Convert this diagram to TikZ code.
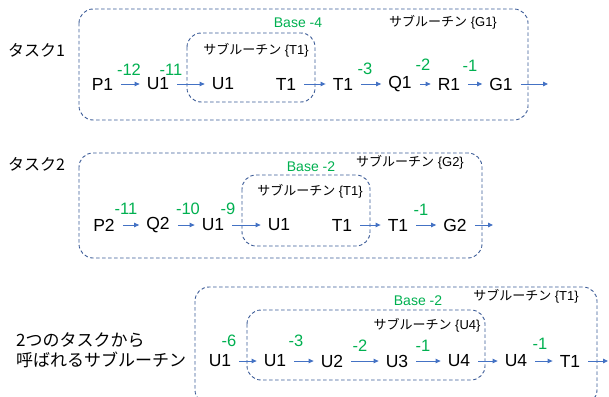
\documentclass[tikz,border=0pt]{standalone}
\usepackage{fontspec}
\setmainfont{Liberation Sans}
\newfontfamily\jp{Noto Sans CJK JP}
\usetikzlibrary{arrows.meta}
\definecolor{arrblue}{HTML}{4472C4}
\definecolor{boxblue}{HTML}{3A5A96}
\definecolor{numgreen}{HTML}{00B050}
\tikzset{
  lbl/.style={inner sep=0pt, font=\fontsize{17.5}{20}\selectfont},
  num/.style={inner sep=0pt, text=numgreen, font=\fontsize{16.5}{19}\selectfont},
  basetxt/.style={inner sep=0pt, text=numgreen, font=\fontsize{14}{17}\selectfont},
  subtxt/.style={inner sep=0pt, font=\fontsize{13}{16}\selectfont},
  tasktxt/.style={inner sep=0pt, anchor=west, font=\jp\fontsize{16}{19}\selectfont},
  arr/.style={draw=arrblue, line width=0.9pt, -{Triangle[length=5pt,width=4.5pt]}, shorten <=8pt, shorten >=7pt},
  arrc/.style={draw=arrblue, line width=0.9pt, -{Triangle[length=5pt,width=4.5pt]}, shorten <=8pt},
  dbox/.style={draw=boxblue, line width=0.9pt, dash pattern=on 3.5pt off 2.5pt, rounded corners=14pt}
}
\newcommand{\sub}[1]{{\jp サブルーチン} \{#1\}}
\begin{document}
\begin{tikzpicture}[x=1pt,y=-1pt]
\useasboundingbox (0,0) rectangle (609,396);
\clip (0,0) rectangle (609,396);
% ---------- Row 1 ----------
\draw[dbox] (79,9) rectangle (528,120);
\draw[dbox] (187,33) rectangle (315,102);
\node[tasktxt] (task1) at (8,50) {タスク1};
\node[basetxt] (base1) at (298,23) {Base -4};
\node[subtxt] (subg1) at (443,22) {\sub{G1}};
\node[subtxt] (subt1a) at (256,50) {\sub{T1}};
\node[lbl] (a1) at (102.5,84) {P1};
\node[lbl] (a2) at (158,84) {U1};
\node[lbl] (a3) at (223,84) {U1};
\node[lbl] (a4) at (286,84) {T1};
\node[lbl] (a5) at (343,84) {T1};
\node[lbl] (a6) at (400,84) {Q1};
\node[lbl] (a7) at (449,84) {R1};
\node[lbl] (a8) at (501,84) {G1};
\coordinate (a9) at (548,84);
\draw[arr] (a1) -- (a2);
\draw[arr] (a2) -- (a3);
\draw[arr] (a4) -- (a5);
\draw[arr] (a5) -- (a6);
\draw[arr] (a6) -- (a7);
\draw[arr] (a7) -- (a8);
\draw[arrc] (a8) -- (a9);
\node[num] (n1) at (129,70) {-12};
\node[num] (n2) at (171,70) {-11};
\node[num] (n3) at (365,69) {-3};
\node[num] (n4) at (423,65) {-2};
\node[num] (n5) at (470,66) {-1};
% ---------- Row 2 ----------
\draw[dbox] (79,153) rectangle (482,258);
\draw[dbox] (242,175) rectangle (370,246);
\node[tasktxt] (task2) at (8,164) {タスク2};
\node[basetxt] (base2) at (311,167) {Base -2};
\node[subtxt] (subg2) at (410,162) {\sub{G2}};
\node[subtxt] (subt1b) at (310,191) {\sub{T1}};
\node[lbl] (b1) at (104,225) {P2};
\node[lbl] (b2) at (158,225) {Q2};
\node[lbl] (b3) at (213,225) {U1};
\node[lbl] (b4) at (279,225) {U1};
\node[lbl] (b5) at (342,225) {T1};
\node[lbl] (b6) at (398,225) {T1};
\node[lbl] (b7) at (455,225) {G2};
\coordinate (b8) at (493,225);
\draw[arr] (b1) -- (b2);
\draw[arr] (b2) -- (b3);
\draw[arr] (b3) -- (b4);
\draw[arr] (b5) -- (b6);
\draw[arr] (b6) -- (b7);
\draw[arrc] (b7) -- (b8);
\node[num] (m1) at (126,209) {-11};
\node[num] (m2) at (188,209) {-10};
\node[num] (m3) at (228,209) {-9};
\node[num] (m4) at (421,210) {-1};
% ---------- Row 3 ----------
\draw[dbox] (195,287) rectangle (597,404);
\draw[dbox] (247,310) rectangle (485,380);
\node[inner sep=0pt, anchor=west, align=left, font=\jp\fontsize{17}{20}\selectfont] (task3) at (16,350) {2つのタスクから\\呼ばれるサブルーチン};
\node[basetxt] (base3) at (418,301) {Base -2};
\node[subtxt] (subt1c) at (526,296) {\sub{T1}};
\node[subtxt] (subu4) at (427,325) {\sub{U4}};
\node[lbl] (c1) at (220,361) {U1};
\node[lbl] (c2) at (275,361) {U1};
\node[lbl] (c3) at (332,361) {U2};
\node[lbl] (c4) at (397,361) {U3};
\node[lbl] (c5) at (459,361) {U4};
\node[lbl] (c6) at (516,361) {U4};
\node[lbl] (c7) at (570,361) {T1};
\coordinate (c8) at (608,361);
\draw[arr] (c1) -- (c2);
\draw[arr] (c2) -- (c3);
\draw[arr] (c3) -- (c4);
\draw[arr] (c4) -- (c5);
\draw[arr] (c5) -- (c6);
\draw[arr] (c6) -- (c7);
\draw[arrc] (c7) -- (c8);
\node[num] (k1) at (229,341) {-6};
\node[num] (k2) at (296,341) {-3};
\node[num] (k3) at (360,346) {-2};
\node[num] (k4) at (423,346) {-1};
\node[num] (k5) at (540,344) {-1};
\end{tikzpicture}
\end{document}
